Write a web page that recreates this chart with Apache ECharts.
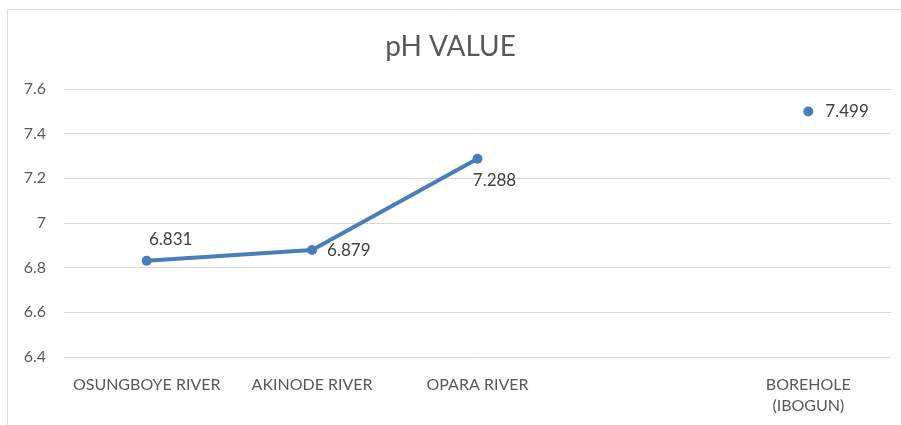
<!DOCTYPE html>
<html>
<head>
<meta charset="utf-8">
<script src="https://cdn.jsdelivr.net/npm/echarts@6/dist/echarts.min.js"></script>
<style>
  html, body { margin: 0; padding: 0; background: #fff; }
  #chart { width: 901px; height: 425px; }
</style>
</head>
<body>
<div id="chart"></div>
<script>
// categories (4th slot is an empty gap in the original)
const sites = ['OSUNGBOYE RIVER', 'AKINODE RIVER', 'OPARA RIVER', '', 'BOREHOLE\n(IBOGUN)'];
const phValues = [6.831, 6.879, 7.288, null, 7.499];
// where each value label sits relative to its point
const labelPos = ['top', 'right', 'bottom', null, 'right'];
const labelOffset = [[24, 0], [2, 0], [17, 0], null, [4, 0]];

const chart = echarts.init(document.getElementById('chart'));
const font = 'Lato, "Open Sans", sans-serif';

chart.setOption({
    animation: false,
    graphic: [{
        type: 'rect', shape: { x: 7.5, y: 9.5, width: 910, height: 430 },
        style: { fill: 'none', stroke: '#d9d9d9', lineWidth: 1 }, silent: true
    }],
    title: {
        text: 'pH VALUE', left: 'center', top: 28,
        textStyle: { fontFamily: font, fontSize: 28, fontWeight: 'normal', color: '#595959' }
    },
    grid: { left: 64, right: 10, top: 89, bottom: 68 },
    xAxis: {
        type: 'category', data: sites, boundaryGap: true,
        axisLine: { show: false }, axisTick: { show: false },
        axisLabel: { margin: 17, interval: 0, color: '#595959', fontFamily: font, fontSize: 16, lineHeight: 21 }
    },
    yAxis: {
        type: 'value', min: 6.4, max: 7.6, interval: 0.2,
        axisLine: { show: false }, axisTick: { show: false },
        axisLabel: { margin: 18, color: '#595959', fontFamily: font, fontSize: 16,
            formatter: v => String(Math.round(v * 10) / 10) },
        splitLine: { lineStyle: { color: '#d9d9d9', width: 1 } }
    },
    series: [{
        type: 'line',
        data: phValues.map((v, i) => ({
            value: v,
            label: labelPos[i] ? { position: labelPos[i], offset: labelOffset[i] } : undefined
        })),
        connectNulls: false,
        symbol: 'circle', symbolSize: 10,
        lineStyle: { color: '#4a7ebb', width: 4 },
        itemStyle: { color: '#4a7ebb' },
        label: { show: true, color: '#404040', fontFamily: font, fontSize: 17, distance: 8 }
    }]
});
</script>
</body>
</html>
